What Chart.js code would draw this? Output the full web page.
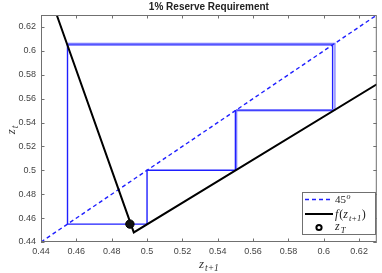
<!DOCTYPE html>
<html><head><meta charset="utf-8">
<script src="https://cdn.jsdelivr.net/npm/chart.js@4/dist/chart.umd.min.js"></script>
<style>html,body{margin:0;padding:0;background:#fff}#wrap{width:382px;height:273px}</style>
</head><body><div id="wrap"><canvas id="c" width="382" height="273"></canvas></div>
<script>
const titleText = '1% Reserve Requirement';
const tickValues = [0.44, 0.46, 0.48, 0.5, 0.52, 0.54, 0.56, 0.58, 0.6, 0.62];
const axisMin = 0.44, axisMax = 0.63;
const diagX = [0.44, 0.63];
const diagY = [0.44, 0.63];
const fX = [0.4489, 0.4925, 0.63];
const fY = [0.63, 0.448, 0.572];
const cobAX = [0.5, 0.5, 0.55, 0.55, 0.605, 0.605, 0.455, 0.455, 0.5];
const cobAY = [0.455, 0.5, 0.5, 0.55, 0.55, 0.605, 0.605, 0.455, 0.455];
const cobBX = [0.5507, 0.5507, 0.6063, 0.6063, 0.455];
const cobBY = [0.5, 0.5507, 0.5507, 0.6063, 0.6063];
const zTX = [0.4903];
const zTY = [0.455];

const pts = (xs, ys) => xs.map((x, i) => ({x, y: ys[i]}));

const SERIF = '"Liberation Serif", "DejaVu Serif", serif';
const SANS = '"Liberation Sans", Arial, sans-serif';
const BLUE = '#1f1fff';

function drawSub(ctx, x, y, base, sub, size, subSize, align) {
  ctx.save();
  ctx.textBaseline = 'alphabetic';
  ctx.textAlign = 'left';
  ctx.font = 'italic ' + size + 'px ' + SERIF;
  const wb = ctx.measureText(base).width;
  ctx.font = 'italic ' + subSize + 'px ' + SERIF;
  const ws = ctx.measureText(sub).width;
  let sx = x;
  if (align === 'center') sx = x - (wb + ws + 1) / 2;
  ctx.font = 'italic ' + size + 'px ' + SERIF;
  ctx.fillText(base, sx, y);
  ctx.font = 'italic ' + subSize + 'px ' + SERIF;
  ctx.fillText(sub, sx + wb + 1, y + size * 0.25);
  ctx.restore();
  return wb + ws + 1;
}

const decor = {
  id: 'decor',
  afterDraw(chart) {
    const ctx = chart.ctx;
    const a = chart.chartArea;
    const xs = chart.scales.x, ys = chart.scales.y;
    ctx.save();
    ctx.strokeStyle = '#707070';
    ctx.lineWidth = 1;
    ctx.strokeRect(a.left + 0.5, a.top + 0.5, a.right - a.left - 1, a.bottom - a.top - 1);
    const tl = 3.5;
    ctx.beginPath();
    tickValues.forEach(v => {
      const px = Math.round(xs.getPixelForValue(v)) + 0.5;
      ctx.moveTo(px, a.bottom); ctx.lineTo(px, a.bottom - tl);
      ctx.moveTo(px, a.top); ctx.lineTo(px, a.top + tl);
      const py = Math.round(ys.getPixelForValue(v)) + 0.5;
      ctx.moveTo(a.left, py); ctx.lineTo(a.left + tl, py);
      ctx.moveTo(a.right, py); ctx.lineTo(a.right - tl, py);
    });
    ctx.stroke();
    ctx.fillStyle = '#222';
    ctx.font = 'bold 10px ' + SANS;
    ctx.textAlign = 'center';
    ctx.textBaseline = 'middle';
    ctx.fillText(titleText, (a.left + a.right) / 2, 7);
    ctx.fillStyle = '#333';
    drawSub(ctx, (a.left + a.right) / 2, 268, 'z', 't+1', 13, 9.5, 'center');
    ctx.save();
    ctx.translate(15, 130);
    ctx.rotate(-Math.PI / 2);
    drawSub(ctx, 0, 0, 'z', 't', 13, 9.5, 'center');
    ctx.restore();

    // legend
    const L = 302, T = 192, R = 376, B = 235;
    ctx.fillStyle = '#fff';
    ctx.fillRect(L, T, R - L, B - T);
    ctx.strokeStyle = '#707070';
    ctx.lineWidth = 1;
    ctx.strokeRect(L + 0.5, T + 0.5, R - L - 1, B - T - 1);
    const lx0 = 305, lx1 = 333, tx = 335;
    ctx.strokeStyle = BLUE; ctx.lineWidth = 1.5;
    ctx.setLineDash([4, 3]);
    ctx.beginPath(); ctx.moveTo(lx0, 199.5); ctx.lineTo(lx1, 199.5); ctx.stroke();
    ctx.setLineDash([]);
    ctx.fillStyle = '#222';
    ctx.textAlign = 'left'; ctx.textBaseline = 'alphabetic';
    ctx.font = '11px ' + SERIF;
    ctx.fillText('45', tx, 203);
    const w45 = ctx.measureText('45').width;
    ctx.font = 'italic 8px ' + SERIF;
    ctx.fillText('o', tx + w45 + 0.5, 199);
    ctx.strokeStyle = '#000'; ctx.lineWidth = 2;
    ctx.beginPath(); ctx.moveTo(lx0, 214); ctx.lineTo(lx1, 214); ctx.stroke();
    ctx.font = 'italic 12px ' + SERIF;
    let cx = tx;
    ctx.fillText('f', cx, 218); cx += ctx.measureText('f').width + 1;
    ctx.font = '12px ' + SERIF;
    ctx.fillText('(', cx, 218); cx += ctx.measureText('(').width;
    cx += drawSub(ctx, cx, 218, 'z', 't+1', 12, 8.5, 'left') + 0.5;
    ctx.font = '12px ' + SERIF;
    ctx.fillStyle = '#222';
    ctx.fillText(')', cx, 218);
    ctx.beginPath();
    ctx.arc(319, 227.5, 2.6, 0, Math.PI * 2);
    ctx.strokeStyle = '#000'; ctx.lineWidth = 2; ctx.stroke();
    drawSub(ctx, tx, 230, 'z', 'T', 12, 8.5, 'left');
    ctx.restore();
  }
};

new Chart(document.getElementById('c'), {
  type: 'scatter',
  data: {
    datasets: [
      { label: 'zT', data: pts(zTX, zTY), pointRadius: 4.2, pointBackgroundColor: '#111', pointBorderColor: '#000', pointBorderWidth: 1, showLine: false },
      { label: 'f', data: pts(fX, fY), showLine: true, borderColor: '#000', borderWidth: 2, pointRadius: 0, fill: false },
      { label: '45', data: pts(diagX, diagY), showLine: true, borderColor: BLUE, borderWidth: 1.4, borderDash: [4, 3], pointRadius: 0, fill: false },
      { label: 'cobB', data: pts(cobBX, cobBY), showLine: true, borderColor: 'rgba(110,110,255,0.9)', borderWidth: 1.3, pointRadius: 0, fill: false },
      { label: 'cobA', data: pts(cobAX, cobAY), showLine: true, borderColor: BLUE, borderWidth: 1.4, pointRadius: 0, fill: false }
    ]
  },
  options: {
    responsive: false,
    devicePixelRatio: 1,
    animation: false,
    layout: { padding: { left: 0, right: 2, top: 15, bottom: 0 } },
    plugins: { legend: { display: false }, title: { display: false }, tooltip: { enabled: false } },
    scales: {
      x: {
        type: 'linear', min: axisMin, max: axisMax,
        afterBuildTicks: s => { s.ticks = tickValues.map(v => ({value: v})); },
        afterFit: s => { s.height = 31; },
        grid: { display: false, drawTicks: false },
        border: { display: false },
        ticks: { padding: 4, color: '#444', font: { family: SANS, size: 9 }, maxRotation: 0, autoSkip: false,
          callback: v => String(+Number(v).toFixed(2)) }
      },
      y: {
        type: 'linear', min: axisMin, max: axisMax,
        afterBuildTicks: s => { s.ticks = tickValues.map(v => ({value: v})); },
        afterFit: s => { s.width = 41; },
        grid: { display: false, drawTicks: false },
        border: { display: false },
        ticks: { padding: 5, color: '#444', font: { family: SANS, size: 9 }, autoSkip: false,
          callback: v => String(+Number(v).toFixed(2)) }
      }
    }
  },
  plugins: [decor]
});
</script>
</body></html>
